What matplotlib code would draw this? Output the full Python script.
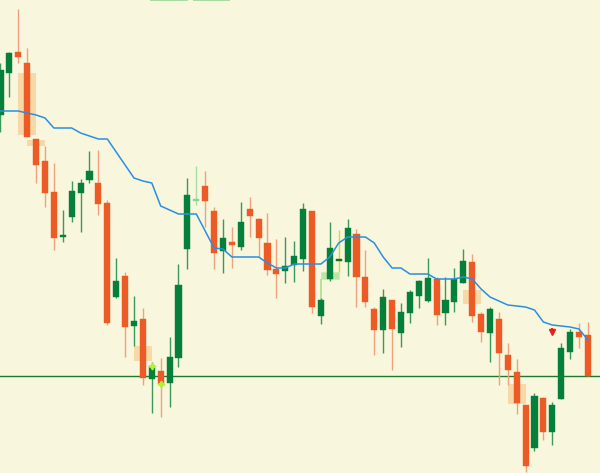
import numpy as np
import matplotlib.pyplot as plt
from matplotlib.patches import Rectangle

# candle levels (screen level, smaller = higher price)
side = list("GGRRRRRGGG" "GRRGRGRGRG" "GGDRRGRGRR" "RRGGGRGGDG"
            "RRRGRGGGGR" "GGGRRGRRRR" "GRGGGRR")
body_top = [70, 53, 52, 63, 139, 161, 192, 235, 191, 183, 171, 183, 203, 281, 276, 321, 319,
            366, 371, 357, 285, 195, 199, 186, 211, 238, 242, 222, 209, 219, 243, 269, 266,
            256, 209, 211, 300, 248, 259, 228, 234, 277, 309, 297, 300, 312, 292, 281, 278,
            279, 300, 279, 261, 262, 314, 309, 319, 355, 372, 405, 396, 398, 405, 348, 332,
            332, 335]
body_bot = [115, 73, 57, 137, 165, 193, 238, 237, 217, 193, 180, 204, 323, 297, 327, 326, 378,
            379, 384, 383, 358, 249, 201, 201, 253, 251, 245, 247, 216, 238, 270, 274, 271,
            265, 259, 307, 316, 279, 261, 262, 277, 302, 330, 330, 329, 333, 313, 296, 301,
            315, 313, 302, 283, 316, 332, 333, 353, 370, 403, 466, 448, 432, 432, 399, 352,
            337, 376]
wick_top = [63, 52, 9, 48, 139, 146, 163, 210, 181, 179, 151, 150, 200, 258, 272, 296, 308,
            362, 358, 337, 264, 178, 166, 171, 207, 219, 227, 202, 197, 218, 213, 239, 237,
            241, 203, 211, 298, 222, 230, 219, 229, 250, 307, 289, 300, 303, 290, 280, 258,
            277, 277, 268, 249, 254, 312, 307, 312, 343, 359, 405, 393, 397, 402, 343, 329,
            323, 322]
wick_bot = [132, 97, 63, 137, 183, 207, 250, 242, 222, 232, 183, 215, 325, 298, 357, 346, 385,
            413, 417, 407, 367, 269, 205, 227, 269, 273, 268, 250, 237, 257, 275, 298, 283,
            282, 271, 313, 324, 281, 272, 276, 307, 307, 355, 353, 370, 347, 323, 308, 302,
            325, 325, 312, 283, 322, 342, 362, 385, 385, 414, 472, 451, 440, 445, 399, 359,
            348, 376]
ma_line = [111, 111, 111, 113, 115, 118, 128, 128, 128, 133, 136, 139, 139, 152, 165, 178, 181,
           183, 206, 210, 214, 214, 214, 231, 248, 249, 257, 257, 257, 257, 263, 268, 268,
           264, 264, 264, 264, 257, 243, 237, 237, 237, 243, 257, 268, 268, 274, 274, 274,
           279, 279, 279, 277, 279, 289, 297, 301, 305, 306, 307, 310, 322, 325, 326, 327,
           329, 340]

support_level = 376
# shaded zones: (centre candle, top level, bottom level)
orange_zones = [(3, 73, 135), (4, 140, 146), (16, 346, 361), (53, 290, 304), (58, 384, 404)]
green_zones = [(37, 272, 279)]
star_marks = [(17, 366), (18, 384)]
arrow_marks = [(62, 331)]
top_strips = [(16.8, 21.1), (21.6, 25.8)]

BG = "#f8f6dc"
GREEN = "#05803a"
RED = "#ec5a26"

fig = plt.figure(figsize=(6, 4.73), dpi=100)
fig.patch.set_facecolor(BG)
ax = fig.add_axes([0, 0, 1, 1])
ax.set_facecolor(BG)

# zones behind the candles
for c, t, b in orange_zones:
    ax.add_patch(Rectangle((c - 1, t), 2, b - t, facecolor="#f9cf95", alpha=0.75,
                           edgecolor="none", zorder=1))
for c, t, b in green_zones:
    ax.add_patch(Rectangle((c - 1, t), 2, b - t, facecolor="#a8e090", alpha=0.75,
                           edgecolor="#c8eeb8", lw=0.8, zorder=1))
    ax.vlines(c - 1, b, body_top[c - 1], color="#a8e090", lw=1.2, zorder=1)
for a, b in top_strips:
    ax.add_patch(Rectangle((a, -5), b - a, 6.5, facecolor="#a8dca0", edgecolor="none", zorder=1))

ax.axhline(support_level, color="#1d7a2c", lw=1.0, zorder=2)

n = min(len(side), len(body_top), len(body_bot), len(wick_top), len(wick_bot))
x = np.arange(n)
for i in x:
    s = side[i]
    if s == "G":
        bc, wc = GREEN, "#3a9a5a"
    elif s == "R":
        bc, wc = RED, "#f0a27e"
    else:
        bc, wc = "#8fd09a", "#a8dca8"
    if i == 38:
        bc, wc = "#1d6a2a", "#d2dc2a"
    ax.vlines(i, wick_top[i], wick_bot[i], color=wc, lw=1.0, zorder=3)
    h = max(body_bot[i] - body_top[i], 1.6)
    ax.bar(i, h, bottom=body_top[i], width=0.68, color=bc,
           edgecolor=bc, lw=0.3, zorder=4)

ax.plot(np.arange(len(ma_line)), ma_line, color="#2b8fe0", lw=1.1, zorder=5)

for c, lvl in star_marks:
    ax.plot(c, lvl, marker=(4, 1, 0), color="#b4f03c", markersize=5, zorder=6)
for c, lvl in arrow_marks:
    ax.plot(c, lvl + 1, marker="v", color="#e8201a", markersize=4, zorder=6)
    ax.vlines(c, lvl - 3.5, lvl, color="#e8201a", lw=1.4, zorder=6)

ax.set_xlim(-0.056, 67.36)
ax.set_ylim(473, 0)
ax.axis("off")

fig.savefig("out.png", dpi=100, facecolor=BG)
